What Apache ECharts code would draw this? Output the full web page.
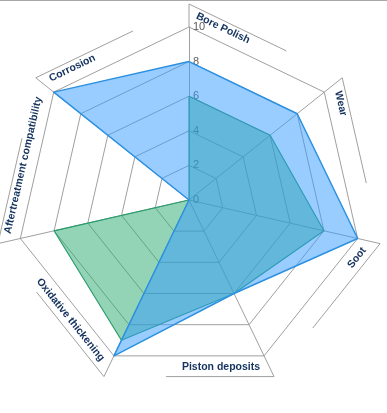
<!DOCTYPE html>
<html><head><meta charset="utf-8">
<script src="https://cdn.jsdelivr.net/npm/echarts@6/dist/echarts.min.js"></script>
<style>html,body{margin:0;padding:0;background:#fff}#c{width:387px;height:413px}</style>
</head><body><div id="c"></div>
<script>
// Indicators in ECharts order (counter-clockwise starting at top)
var categories = ['Bore Polish', 'Corrosion', 'Aftertreatment compatibility', 'Oxidative thickening', 'Piston deposits', 'Soot', 'Wear'];
var seriesBlue = [8, 10, 0, 10, 6, 10, 8];
var seriesGreen = [6, 0, 8, 9, 6, 8, 6];
var axisMax = 10;
var tickLabels = ['0', '2', '4', '6', '8', '10'];

var CX = 189, CY = 200, R = 173;
var D = 23, L = 108;
var N = categories.length;

function unit(k) {
  var a = Math.PI / 2 + k * 2 * Math.PI / N;
  return [Math.cos(a), -Math.sin(a)];
}

var graphics = [{
  type: 'line', shape: {x1: 0, y1: 0.5, x2: 387, y2: 0.5},
  style: {stroke: '#a8a8a8', lineWidth: 1}
}];
for (var k = 0; k < N; k++) {
  var u = unit(k), u2 = unit((k - 1 + N) % N);
  var V = [CX + R * u[0], CY + R * u[1]], V2 = [CX + R * u2[0], CY + R * u2[1]];
  var ex = V2[0] - V[0], ey = V2[1] - V[1], el = Math.sqrt(ex * ex + ey * ey);
  ex /= el; ey /= el;
  var nx = ey, ny = -ex;
  if (nx * u[0] + ny * u[1] < 0) { nx = -nx; ny = -ny; }
  var E = [V[0] + D * u[0], V[1] + D * u[1]];
  graphics.push({type: 'line', silent: true, shape: {x1: V[0], y1: V[1], x2: E[0], y2: E[1]}, style: {stroke: '#a0a0a0', lineWidth: 1}});
  graphics.push({type: 'line', silent: true, shape: {x1: E[0], y1: E[1], x2: E[0] + L * ex, y2: E[1] + L * ey}, style: {stroke: '#a0a0a0', lineWidth: 1}});
  var flip = ex < -0.01;
  var dx = flip ? -ex : ex, dy = flip ? -ey : ey;
  var s0 = flip ? 4 : 2, h = flip ? 11.5 : 13.5;
  var P = [V[0] + s0 * ex + h * nx, V[1] + s0 * ey + h * ny];
  graphics.push({
    type: 'text', silent: true, x: P[0], y: P[1], rotation: -Math.atan2(dy, dx),
    style: {text: categories[k], align: flip ? 'right' : 'left', verticalAlign: 'middle',
      font: 'bold 10.5px "Liberation Sans", Arial, sans-serif', fill: '#15335f'}
  });
}

var indicators = categories.map(function (c, i) {
  var o = {name: c, max: axisMax, min: 0};
  if (i === 0) {
    o.axisLabel = {show: true, color: '#5c5c5c', fontSize: 11, fontFamily: '"Liberation Sans", Arial, sans-serif',
      align: 'left', margin: -4, verticalAlign: 'middle',
      formatter: function (v) { return tickLabels[Math.round(v / 2)] || ''; }};
  }
  return o;
});

var chart = echarts.init(document.getElementById('c'), null, {renderer: 'canvas'});
chart.setOption({
  animation: false,
  backgroundColor: '#fff',
  radar: {
    center: [CX, CY], radius: R, startAngle: 90, splitNumber: 5,
    shape: 'polygon',
    indicator: indicators,
    axisName: {show: false},
    axisLine: {show: true, lineStyle: {color: '#a0a0a0', width: 1}},
    splitLine: {show: true, lineStyle: {color: '#a0a0a0', width: 1}},
    splitArea: {show: false},
    axisTick: {show: false},
    axisLabel: {show: false}
  },
  series: [{
    type: 'radar', symbol: 'none', z: 2,
    lineStyle: {color: '#2a9a70', width: 1.2},
    areaStyle: {color: 'rgba(40,170,110,0.5)', opacity: 1},
    data: [{value: seriesGreen, name: 'Green'}]
  }, {
    type: 'radar', symbol: 'none', z: 3,
    lineStyle: {color: '#2a8fd8', width: 1.5},
    areaStyle: {color: 'rgba(51,153,255,0.5)', opacity: 1},
    data: [{value: seriesBlue, name: 'Blue'}]
  }],
  graphic: graphics
});
</script></body></html>
